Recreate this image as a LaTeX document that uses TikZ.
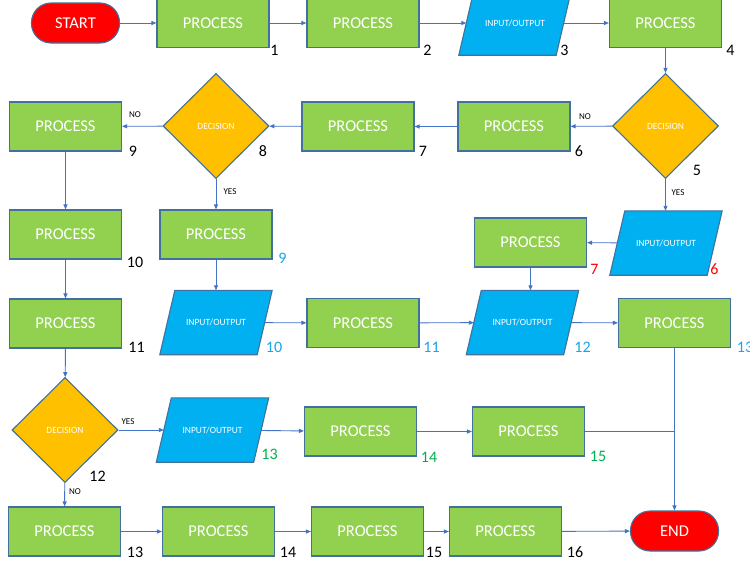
\documentclass[tikz,border=0pt]{standalone}
\usepackage{fontspec}
\setmainfont{Carlito}
\usetikzlibrary{shapes.geometric,arrows.meta,backgrounds}

\definecolor{procgreen}{HTML}{92D050}
\definecolor{iocyan}{HTML}{00B0F0}
\definecolor{decgold}{HTML}{FFC000}
\definecolor{termred}{HTML}{FF0000}
\definecolor{shapeedge}{HTML}{41719C}
\definecolor{linkblue}{HTML}{4472C4}
\definecolor{numcyan}{HTML}{1AA5E6}
\definecolor{numgreen}{HTML}{00B050}
\definecolor{numred}{HTML}{FF0000}

\tikzset{
  proc/.style={rectangle, draw=shapeedge, line width=1.1pt, fill=procgreen,
    minimum width=112pt, minimum height=49pt, inner sep=0pt, text=white,
    font=\fontsize{16.5}{18}\selectfont},
  % text holder of an input/output box; the slanted body is drawn behind it
  io/.style={rectangle, minimum width=97pt, minimum height=64pt, inner sep=0pt,
    text=white, font=\fontsize{9.5}{11}\selectfont},
  iobody/.style={draw=shapeedge, line width=1.1pt, fill=iocyan, line join=miter},
  dec/.style={diamond, draw=shapeedge, line width=1.1pt, fill=decgold,
    minimum width=106pt, minimum height=105pt, inner sep=0pt, text=white,
    font=\fontsize{9.5}{11}\selectfont},
  term/.style={rectangle, rounded corners=19.5pt, draw=shapeedge, line width=1.1pt,
    fill=termred, minimum width=88pt, minimum height=40pt, inner sep=0pt,
    text=white, font=\fontsize{16.5}{18}\selectfont},
  link/.style={draw=linkblue, line width=0.9pt, -{Triangle[length=5pt,width=4pt]}},
  linkplain/.style={draw=linkblue, line width=0.9pt},
  num/.style={inner sep=0pt, font=\fontsize{16}{18}\selectfont},
  ans/.style={inner sep=0pt, font=\fontsize{9}{10}\selectfont},
}

\begin{document}
\begin{tikzpicture}[x=1pt, y=-1pt]
\useasboundingbox (0,0) rectangle (750,560);

% top row
\node[term] (tstart) at (75.5,23) {START};
\node[proc] (p1) at (213,23) {PROCESS};
\node[proc] (p2) at (363,23) {PROCESS};
\node[io]   (io3) at (515,23) {INPUT/OUTPUT};
\node[proc] (p4) at (665.5,23) {PROCESS};

% second row
\node[dec]  (d5) at (665.5,126) {DECISION};
\node[proc] (p6) at (514,126.5) {PROCESS};
\node[proc] (p7) at (358,126.5) {PROCESS};
\node[dec]  (d8) at (216,126) {DECISION};
\node[proc] (p9) at (65.5,126.5) {PROCESS};

% third row
\node[proc] (p10) at (65.5,234.5) {PROCESS};
\node[proc] (p9b) at (216,234.5) {PROCESS};
\node[proc] (p7b) at (530.5,242.5) {PROCESS};
\node[io]   (io6) at (666,243) {INPUT/OUTPUT};

% fourth row
\node[proc] (p11) at (65.5,323.5) {PROCESS};
\node[io]   (io10) at (216,322.5) {INPUT/OUTPUT};
\node[proc] (p11c) at (363,323) {PROCESS};
\node[io]   (io12) at (522.5,322.5) {INPUT/OUTPUT};
\node[proc] (p13r) at (674.5,323) {PROCESS};

% fifth row
\node[dec]  (d12) at (65,430) {DECISION};
\node[io]   (io13) at (212.5,430) {INPUT/OUTPUT};
\node[proc] (p14) at (360.5,431.5) {PROCESS};
\node[proc] (p15g) at (528.5,431.5) {PROCESS};

% bottom row
\node[proc] (p13b) at (64.5,531.5) {PROCESS};
\node[proc] (p14b) at (218.5,531.5) {PROCESS};
\node[proc] (p15b) at (367.5,531.5) {PROCESS};
\node[proc] (p16b) at (505.5,531.5) {PROCESS};
\node[term] (tend) at (674.5,531) {END};

% page background and slanted input/output bodies
\begin{pgfonlayer}{background}
  \fill[white] (0,0) rectangle (750,560);
  \foreach \n in {io3,io6,io10,io12,io13}
    \filldraw[iobody] ([xshift=7.5pt]\n.north west) -- ([xshift=7.5pt]\n.north east)
      -- ([xshift=-7.5pt]\n.south east) -- ([xshift=-7.5pt]\n.south west) -- cycle;
\end{pgfonlayer}

% connectors
\draw[link] (tstart) -- (p1);
\draw[link] (p1) -- (p2);
\draw[link] (p2) -- (io3);
\draw[link] (io3) -- (p4);
\draw[link] (p4) -- (d5);
\draw[link] (d5) -- (p6);
\draw[link] (p6) -- (p7);
\draw[link] (p7) -- (d8);
\draw[link] (d8) -- (p9);
\draw[link] (d8) -- (p9b);
\draw[link] (p9) -- (p10);
\draw[link] (p10) -- (p11);
\draw[link] (p11) -- (d12);
\draw[link] (d12) -- (io13);
\draw[link] (d12) -- (p13b);
\draw[link] (p13b) -- (p14b);
\draw[link] (p14b) -- (p15b);
\draw[link] (p15b) -- (p16b);
\draw[link] (p16b) -- (tend);
\draw[link] (p9b) -- (io10);
\draw[link] (io10) -- (p11c);
\draw[link] (p11c) -- (io12);
\draw[link] (io12) -- (p13r);
\draw[link] (d5.south) -- (d5.south |- io6.north);
\draw[link] (io6) -- (p7b);
\draw[link] (p7b.south) -- (p7b.south |- io12.north);
\draw[link] (io13) -- (p14);
\draw[link] (p14) -- (p15g);
\coordinate (join) at (p15g.east -| p13r.south);
\draw[linkplain] (p15g.east) -- (join);
\draw[link] (p13r) -- (tend);

% branch answers
\node[ans] (a8no)  at (135,115) {NO};
\node[ans] (a8yes) at (230,192) {YES};
\node[ans] (a5no)  at (585,117) {NO};
\node[ans] (a5yes) at (678,193) {YES};
\node[ans] (a12yes) at (128,422) {YES};
\node[ans] (a12no) at (75,492) {NO};

% step numbers
\node[num] (n1) at (274.5,50) {1};
\node[num] (n2) at (427.5,50) {2};
\node[num] (n3) at (564.5,50) {3};
\node[num] (n4) at (730.5,50) {4};
\node[num] (n5) at (697,170) {5};
\node[num] (n6) at (579,151) {6};
\node[num] (n7) at (423,151) {7};
\node[num] (n8) at (263,151) {8};
\node[num] (n9) at (133,151) {9};
\node[num] (n10) at (135,262) {10};
\node[num, text=numcyan] (c9) at (282.5,258) {9};
\node[num, text=numred] (r7) at (594.5,269) {7};
\node[num, text=numred] (r6) at (714.5,269) {6};
\node[num] (n11) at (136.5,347) {11};
\node[num, text=numcyan] (c10) at (274,347) {10};
\node[num, text=numcyan] (c11) at (431.5,347) {11};
\node[num, text=numcyan] (c12) at (582.5,347) {12};
\node[num, text=numcyan] (c13) at (745,347) {13};
\node[num] (n12) at (97.5,476) {12};
\node[num, text=numgreen] (g13) at (269.5,454) {13};
\node[num, text=numgreen] (g14) at (429,457) {14};
\node[num, text=numgreen] (g15) at (598,456) {15};
\node[num] (b13) at (135,552) {13};
\node[num] (b14) at (288,552) {14};
\node[num] (b15) at (434,552) {15};
\node[num] (b16) at (575,552) {16};
\end{tikzpicture}
\end{document}
